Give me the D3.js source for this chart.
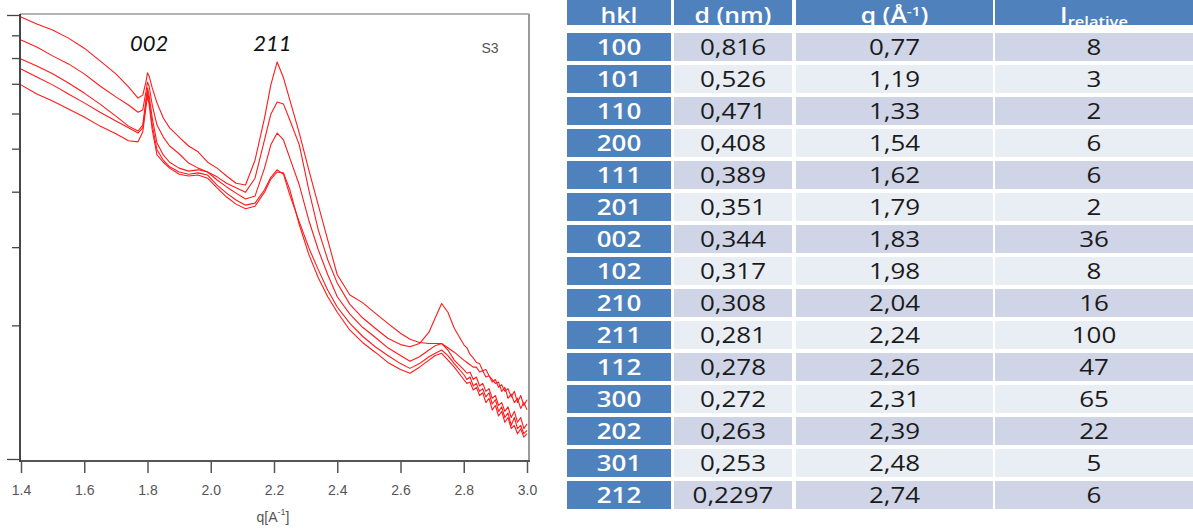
<!DOCTYPE html>
<html><head><meta charset="utf-8">
<script src="https://cdn.jsdelivr.net/npm/d3@7"></script>
<style>html,body{margin:0;padding:0;background:#fff;} svg{display:block;}</style>
</head><body>
<svg id="c" width="1193" height="528"></svg>
<script>
// ---------- chart data ----------
const qGrid = [1.40,1.45,1.50,1.55,1.60,1.65,1.70,1.74,1.77,1.785,1.795,1.80,1.805,1.815,1.83,1.85,1.87,1.90,1.93,1.96,1.99,2.02,2.05,2.08,2.11,2.14,2.17,2.19,2.21,2.23,2.25,2.28,2.31,2.34,2.37,2.40,2.44,2.48,2.52,2.56,2.60,2.63,2.66,2.69,2.71,2.73,2.75,2.77,2.80,2.81,2.82,2.83,2.84,2.85,2.86,2.87,2.88,2.89,2.90,2.91,2.92,2.93,2.94,2.95,2.96,2.97,2.98,2.99,3.00];
const scanA = [9.90,9.54,9.25,8.87,8.42,7.88,7.37,6.89,6.50,6.60,7.06,7.41,7.29,6.85,6.34,5.86,5.57,5.31,5.07,4.92,4.66,4.52,4.34,4.18,4.14,4.71,5.86,6.96,7.84,7.22,6.44,5.42,4.48,3.73,3.11,2.60,2.34,2.25,2.13,2.02,1.92,1.86,1.83,1.82,1.82,1.82,1.78,1.74,1.67,1.65,1.63,1.61,1.61,1.57,1.58,1.53,1.54,1.49,1.51,1.45,1.47,1.42,1.44,1.38,1.42,1.34,1.39,1.32,1.36];
const scanB = [8.78,8.47,8.09,7.76,7.37,6.92,6.54,6.27,6.04,6.11,6.71,7.06,6.92,6.27,5.65,5.31,5.07,4.87,4.64,4.52,4.43,4.32,4.18,4.08,3.99,4.29,5.23,5.98,6.37,6.30,5.80,5.10,4.04,3.28,2.81,2.49,2.23,2.08,1.97,1.87,1.81,1.79,1.82,1.93,2.08,2.24,2.14,1.97,1.81,1.78,1.72,1.69,1.65,1.64,1.58,1.59,1.54,1.51,1.48,1.49,1.42,1.45,1.37,1.40,1.34,1.37,1.30,1.34,1.29];
const scanC = [7.96,7.68,7.37,7.03,6.67,6.30,5.92,5.62,5.48,5.65,6.44,6.85,6.60,5.86,5.15,4.84,4.66,4.52,4.45,4.48,4.43,4.25,4.10,3.97,3.85,3.91,4.52,5.10,5.42,5.23,4.76,4.14,3.45,2.96,2.60,2.32,2.12,1.98,1.88,1.78,1.71,1.66,1.70,1.76,1.80,1.82,1.76,1.67,1.59,1.56,1.57,1.51,1.53,1.46,1.48,1.42,1.44,1.37,1.39,1.32,1.34,1.28,1.31,1.24,1.28,1.21,1.24,1.17,1.20];
const scanD = [7.56,7.25,6.96,6.64,6.34,6.04,5.77,5.57,5.42,5.57,6.30,6.71,6.44,5.65,4.97,4.71,4.55,4.43,4.38,4.41,4.36,4.14,3.97,3.83,3.73,3.77,4.04,4.31,4.48,4.38,3.93,3.42,2.99,2.67,2.40,2.20,2.02,1.89,1.79,1.71,1.64,1.60,1.64,1.70,1.73,1.76,1.71,1.64,1.55,1.51,1.53,1.46,1.48,1.42,1.44,1.38,1.41,1.33,1.36,1.28,1.31,1.24,1.27,1.19,1.24,1.17,1.19,1.14,1.16];
const scanE = [6.96,6.64,6.40,6.14,5.89,5.62,5.40,5.21,5.18,5.45,6.18,6.57,6.30,5.51,4.84,4.66,4.52,4.38,4.34,4.36,4.29,4.08,3.89,3.75,3.66,3.71,3.99,4.27,4.43,4.41,4.04,3.37,2.89,2.56,2.32,2.14,1.95,1.83,1.74,1.65,1.59,1.56,1.61,1.67,1.71,1.73,1.67,1.61,1.51,1.48,1.49,1.43,1.45,1.39,1.41,1.34,1.37,1.29,1.32,1.25,1.28,1.21,1.24,1.17,1.19,1.14,1.17,1.12,1.14];
const xTicks = [1.4,1.6,1.8,2.0,2.2,2.4,2.6,2.8,3.0];
const yMajorTicks = [1,10];
const yMinorTicks = [2,3,4,5,6,7,8,9];
const peakNames = ["002","211"];
const peakQ = [1.805,2.195];
const sampleName = "S3";

// ---------- table data ----------
const tableHeaders = ["hkl","d (nm)","q","I"];
const hkl = ["100","101","110","200","111","201","002","102","210","211","112","300","202","301","212"];
const dNm = ["0,816","0,526","0,471","0,408","0,389","0,351","0,344","0,317","0,308","0,281","0,278","0,272","0,263","0,253","0,2297"];
const qVal = ["0,77","1,19","1,33","1,54","1,62","1,79","1,83","1,98","2,04","2,24","2,26","2,31","2,39","2,48","2,74"];
const iRel = [8,3,2,6,6,2,36,8,16,100,47,65,22,5,6];

const svg = d3.select("#c");

// ---------- chart ----------
const x = d3.scaleLinear().domain([1.4,3.0]).range([21,527]);
const y = d3.scaleLog().domain([1,10]).range([459,15]);

const defs = svg.append("defs");
defs.append("clipPath").attr("id","plotclip")
  .append("rect").attr("x",20).attr("y",14).attr("width",509).attr("height",447);

const scans = [scanA,scanB,scanC,scanD,scanE];
const line = d3.line().x((d,i)=>x(qGrid[i])).y(d=>y(d));
svg.append("g").attr("clip-path","url(#plotclip)")
  .selectAll("path").data(scans).join("path")
  .attr("d",line).attr("fill","none").attr("stroke","#ff1a1a").attr("stroke-width",1.1)
  .attr("stroke-linejoin","round");

// frame
svg.append("line").attr("x1",20).attr("x2",529.5).attr("y1",14).attr("y2",14).attr("stroke","#9a9a9a").attr("stroke-width",1.5);
svg.append("line").attr("x1",529).attr("x2",529).attr("y1",14).attr("y2",461).attr("stroke","#9a9a9a").attr("stroke-width",2);
svg.append("line").attr("x1",20).attr("x2",530).attr("y1",461).attr("y2",461).attr("stroke","#555").attr("stroke-width",1.8);
svg.append("line").attr("x1",20).attr("x2",20).attr("y1",14).attr("y2",462).attr("stroke","#333").attr("stroke-width",1.8);

// axes
const xAxis = svg.append("g").attr("transform","translate(0,461)")
  .call(d3.axisBottom(x).tickValues(xTicks).tickSize(12).tickSizeOuter(0).tickPadding(12).tickFormat(d3.format(".1f")));
xAxis.select(".domain").remove();
xAxis.selectAll(".tick line").attr("stroke","#555").attr("stroke-width",1.5);
xAxis.selectAll(".tick text").attr("fill","#555").style("font-family","'Liberation Sans',Arial,sans-serif").style("font-size","14px");

const yMaj = svg.append("g").attr("transform","translate(20,0)")
  .call(d3.axisLeft(y).tickValues(yMajorTicks).tickSize(13).tickSizeOuter(0).tickFormat(""));
const yMin = svg.append("g").attr("transform","translate(20,0)")
  .call(d3.axisLeft(y).tickValues(yMinorTicks).tickSize(8).tickSizeOuter(0).tickFormat(""));
[yMaj,yMin].forEach(g=>{g.select(".domain").remove(); g.selectAll(".tick line").attr("stroke","#444").attr("stroke-width",1.3);});

// axis title
const xt = svg.append("text").attr("x",273).attr("y",522).attr("text-anchor","middle")
  .attr("fill","#555").style("font-family","'Liberation Sans',Arial,sans-serif").style("font-size","14px");
xt.append("tspan").text("q[A");
xt.append("tspan").attr("dy",-7).style("font-size","9px").text("-1");
xt.append("tspan").attr("dy",7).text("]");

// peak labels
svg.selectAll("text.peak").data(peakNames).join("text").attr("class","peak")
  .attr("x",(d,i)=>x(peakQ[i])).attr("y",y(8.3)).attr("text-anchor","middle")
  .style("font-family","Lato,'Open Sans',sans-serif").style("font-style","italic").style("font-size","22px")
  .attr("fill","#111").text(d=>d);

svg.append("text").attr("x",490).attr("y",53).attr("text-anchor","middle").attr("fill","#555")
  .style("font-family","'Liberation Sans',Arial,sans-serif").style("font-size","14px").text(sampleName);

// ---------- table ----------
const colEdges = [[567,671],[674,792],[796,993],[995,1193]];
const rowsY = d3.scaleBand().domain(d3.range(hkl.length)).range([33,509]).paddingInner(0.125);
const blue = "#4f81bd", dark = "#cfd5e7", light = "#e9edf4";
const sx = 1.18;
const tbl = svg.append("g");
defs.append("clipPath").attr("id","hdrclip").append("rect").attr("x",560).attr("y",0).attr("width",640).attr("height",25);

// header
const hdr = tbl.append("g").attr("clip-path","url(#hdrclip)");
colEdges.forEach((c,i)=>{
  hdr.append("rect").attr("x",c[0]).attr("y",0).attr("width",c[1]-c[0]).attr("height",25).attr("fill",blue);
});
const hfont = "'Open Sans',Lato,sans-serif";
function htext(i){
  const cx=(colEdges[i][0]+colEdges[i][1])/2;
  return hdr.append("text").attr("transform",`translate(${cx},23) scale(${sx},1)`).attr("text-anchor","middle")
   .attr("fill","#fff").style("font-family",hfont).style("font-weight","600").style("font-size","21px");
}
htext(0).text(tableHeaders[0]);
htext(1).text(tableHeaders[1]);
const qh = htext(2);
qh.append("tspan").text(tableHeaders[2]+" (Å");
qh.append("tspan").attr("dy",-7).style("font-size","13px").text("-1");
qh.append("tspan").attr("dy",7).text(")");
const ih = htext(3);
ih.append("tspan").text(tableHeaders[3]);
ih.append("tspan").attr("dy",4).style("font-size","14px").text("relative");

// body
const cols = [hkl,dNm,qVal,iRel];
hkl.forEach((h,r)=>{
  const y0 = rowsY(r), bh = rowsY.bandwidth();
  cols.forEach((col,ci)=>{
    const c = colEdges[ci];
    tbl.append("rect").attr("x",c[0]).attr("y",y0).attr("width",c[1]-c[0]).attr("height",bh)
      .attr("fill", ci===0 ? blue : (r%2===0 ? dark : light));
    tbl.append("text").attr("transform",`translate(${(c[0]+c[1])/2},${y0+bh/2+8}) scale(${sx},1)`)
      .attr("text-anchor","middle").attr("fill", ci===0 ? "#fff" : "#1a1a1a")
      .style("font-family",hfont).style("font-weight", ci===0 ? "600":"normal").style("font-size","22px")
      .text(col[r]);
  });
});
</script>
</body></html>
